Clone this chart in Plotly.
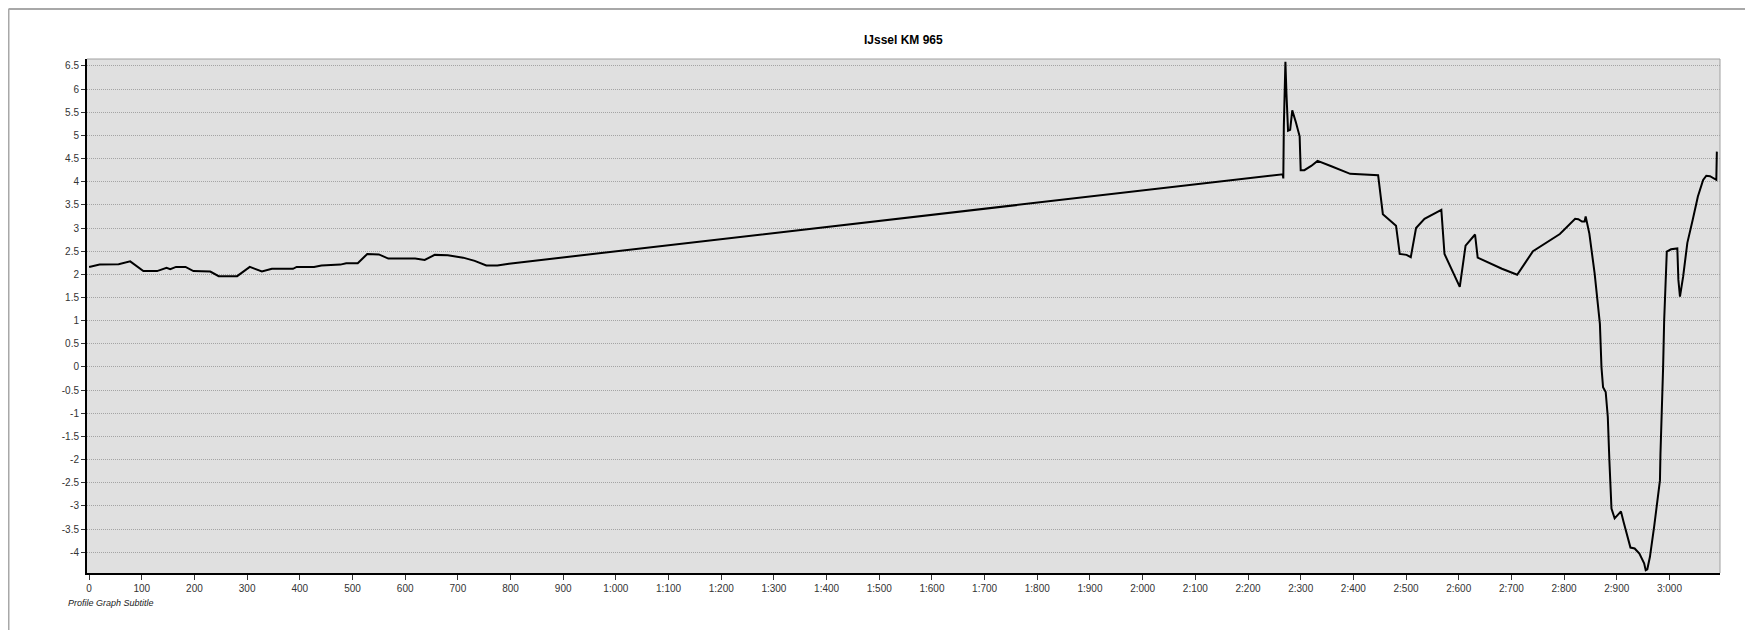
import plotly.graph_objects as go

# ---- data ----
distance = [0, 20, 56, 78, 103, 129, 147, 154, 165, 183, 198, 230, 246, 281, 305, 328, 347, 387, 394, 427,
            441, 477, 488, 510, 528, 550, 568, 619, 637, 656, 681, 710, 732, 754, 775, 797,
            2266, 2267, 2268, 2270, 2271, 2273, 2276, 2280, 2284, 2291, 2298, 2300, 2307, 2320, 2332, 2357,
            2394, 2447, 2456, 2481, 2488, 2501, 2509, 2519, 2535, 2567, 2573, 2602, 2613, 2631, 2636, 2682,
            2711, 2741, 2792, 2821, 2827, 2834, 2839, 2841, 2848, 2858, 2864, 2868, 2871, 2874, 2879, 2883,
            2886, 2888, 2890, 2896, 2901, 2908, 2913, 2921, 2926, 2934, 2943, 2952, 2955, 2958, 2963, 2971,
            2978, 2982, 2983, 2985, 2987, 2988, 2990, 2992, 2995, 3003, 3015, 3017, 3020, 3026, 3034, 3044,
            3054, 3064, 3070, 3077, 3086, 3089, 3090]
elevation = [2.16, 2.21, 2.22, 2.28, 2.07, 2.07, 2.14, 2.11, 2.16, 2.16, 2.07, 2.06, 1.96, 1.96, 2.16, 2.06, 2.12, 2.12, 2.16, 2.16,
             2.19, 2.21, 2.24, 2.24, 2.44, 2.43, 2.34, 2.34, 2.31, 2.42, 2.41, 2.36, 2.29, 2.19, 2.19, 2.23,
             4.16, 4.07, 5.19, 6.37, 6.59, 5.9, 5.1, 5.12, 5.54, 5.28, 4.98, 4.25, 4.25, 4.34, 4.45, 4.34,
             4.17, 4.14, 3.3, 3.05, 2.44, 2.42, 2.37, 3.0, 3.2, 3.39, 2.44, 1.73, 2.62, 2.86, 2.36, 2.12,
             1.99, 2.5, 2.87, 3.2, 3.19, 3.14, 3.14, 3.25, 2.88, 2.02, 1.35, 0.93, -0.01, -0.44, -0.54, -1.08,
             -2.02, -2.52, -3.06, -3.27, -3.2, -3.12, -3.35, -3.71, -3.9, -3.92, -4.03, -4.24, -4.39, -4.37, -4.1, -3.45,
             -2.81, -2.45, -1.87, -1.23, -0.58, -0.01, 1.0, 1.48, 2.49, 2.54, 2.56, 1.88, 1.52, 1.95, 2.68, 3.17,
             3.68, 4.04, 4.13, 4.12, 4.05, 4.04, 4.65]

x_tick_values = [0, 100, 200, 300, 400, 500, 600, 700, 800, 900, 1000, 1100, 1200, 1300, 1400, 1500,
                 1600, 1700, 1800, 1900, 2000, 2100, 2200, 2300, 2400, 2500, 2600, 2700, 2800, 2900, 3000]
x_tick_labels = ["0", "100", "200", "300", "400", "500", "600", "700", "800", "900", "1:000", "1:100",
                 "1:200", "1:300", "1:400", "1:500", "1:600", "1:700", "1:800", "1:900", "2:000", "2:100",
                 "2:200", "2:300", "2:400", "2:500", "2:600", "2:700", "2:800", "2:900", "3:000"]
y_tick_values = [-4, -3.5, -3, -2.5, -2, -1.5, -1, -0.5, 0, 0.5, 1, 1.5, 2, 2.5, 3, 3.5, 4, 4.5, 5, 5.5, 6, 6.5]
y_tick_labels = ["-4", "-3.5", "-3", "-2.5", "-2", "-1.5", "-1", "-0.5", "0", "0.5", "1", "1.5", "2", "2.5",
                 "3", "3.5", "4", "4.5", "5", "5.5", "6", "6.5"]

title_text = "IJssel KM 965"
subtitle_text = "Profile Graph Subtitle"

# ---- layout geometry (pixels) ----
W, H = 1737, 622
ML, MR, MT, MB = 79, 25, 51, 57
PW, PH = W - ML - MR, H - MT - MB


def px_x(p):
    return (p - ML) / PW


def px_y(p):
    return 1 - (p - MT) / PH


fig = go.Figure()
fig.add_trace(go.Scatter(x=distance, y=elevation, mode="lines",
                         line=dict(color="#000000", width=2), showlegend=False))

font_family = "Liberation Sans, Arial, sans-serif"

fig.update_layout(
    width=W, height=H,
    margin=dict(l=ML, r=MR, t=MT, b=MB, pad=0),
    paper_bgcolor="#ffffff",
    plot_bgcolor="#e0e0e0",
    font=dict(family=font_family, size=10, color="#333333"),
    xaxis=dict(range=[-4, 3096], tickmode="array", tickvals=x_tick_values, ticktext=x_tick_labels,
               showgrid=False, zeroline=False, showline=True, linecolor="#000000", linewidth=2,
               ticks="outside", ticklen=5, tickwidth=1, tickcolor="#333333",
               tickfont=dict(size=10, color="#333333")),
    yaxis=dict(range=[-4.45, 6.65], tickmode="array", tickvals=y_tick_values, ticktext=y_tick_labels,
               showgrid=True, gridcolor="#a4a4a4", gridwidth=1, griddash="1px,1px",
               zeroline=False, showline=True, linecolor="#000000", linewidth=2,
               ticks="outside", ticklen=4, tickwidth=1, tickcolor="#333333",
               tickfont=dict(size=10, color="#333333")),
    shapes=[
        # top and right plot borders (gray)
        dict(type="line", xref="paper", yref="paper", x0=0, x1=1, y0=1, y1=1,
             line=dict(color="#a0a0a0", width=1)),
        dict(type="line", xref="paper", yref="paper", x0=1, x1=1, y0=0, y1=1,
             line=dict(color="#a0a0a0", width=1)),
        # outer frame (top and left)
        dict(type="line", xref="paper", yref="paper", x0=px_x(0.5), x1=px_x(W + 5), y0=px_y(1), y1=px_y(1),
             line=dict(color="#a8a8a8", width=2)),
        dict(type="line", xref="paper", yref="paper", x0=px_x(0.5), x1=px_x(0.5), y0=px_y(1), y1=px_y(H + 5),
             line=dict(color="#a8a8a8", width=2)),
    ],
    annotations=[
        dict(text="<b>" + title_text + "</b>", xref="paper", yref="paper", x=0.5, y=px_y(32),
             xanchor="center", yanchor="middle", showarrow=False,
             font=dict(family=font_family, size=12, color="#000000")),
        dict(text="<i>" + subtitle_text + "</i>", xref="paper", yref="paper", x=px_x(58), y=px_y(595),
             xanchor="left", yanchor="middle", showarrow=False,
             font=dict(family=font_family, size=9, color="#222222")),
    ],
)

fig.write_html("out.html")
